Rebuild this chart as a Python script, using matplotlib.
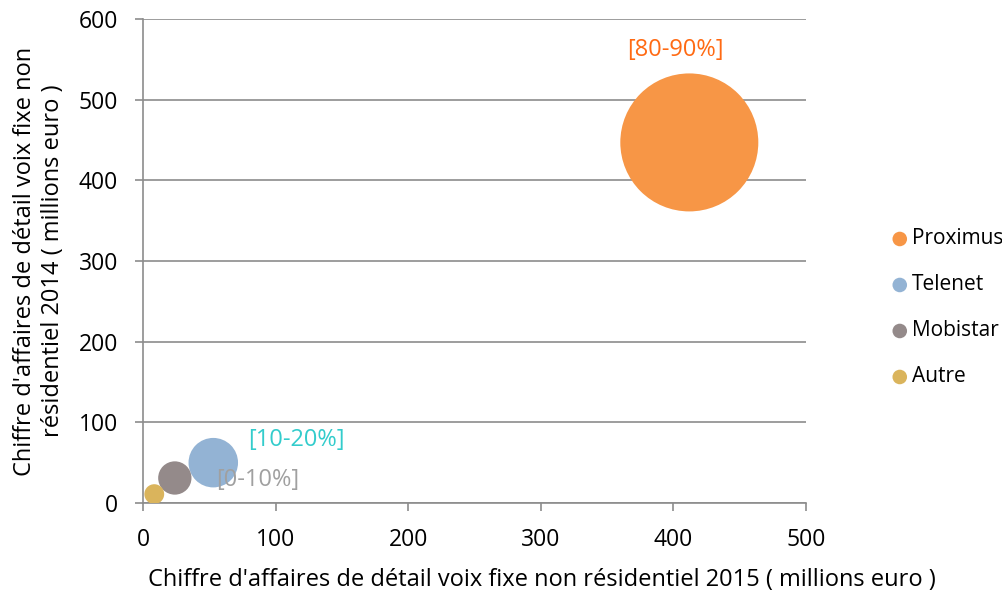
import matplotlib.pyplot as plt

operators = ['Proximus', 'Telenet', 'Mobistar', 'Autre']
rev_2015 = [412, 53, 24, 8.5]
rev_2014 = [447, 50, 31, 11]
colors = ['#F79646', '#93B3D4', '#948A8A', '#DAB45C']

# share labels shown next to bubbles
share_labels = ['[80-90%]', '[10-20%]', '[0-10%]']
share_pos = [(365, 561), (79, 78), (55, 28.5)]
share_colors = ['#FF6A13', '#33CCCC', '#A0A0A0']

plt.rcParams['font.family'] = ['Open Sans', 'DejaVu Sans']

fig = plt.figure(figsize=(10.03, 5.95), dpi=100)
ax = fig.add_axes([143 / 1003, 1 - 503 / 595, (806 - 143) / 1003, (503 - 19) / 595])

# bubble area proportional to 2015 revenue, largest ~138 px wide
max_d = 138 * 0.72
sizes = [max_d ** 2 * v / max(rev_2015) for v in rev_2015]
for name, x, y, s, c in zip(operators, rev_2015, rev_2014, sizes, colors):
    ax.scatter(x, y, s=s, color=c, edgecolors='none', zorder=3, label=name)

for txt, (x, y), c in zip(share_labels, share_pos, share_colors):
    ax.text(x, y, txt, color=c, fontsize=17, ha='left', va='center', zorder=4)

ax.set_xlim(0, 500)
ax.set_ylim(0, 600)
ax.set_xticks(range(0, 501, 100))
ax.set_yticks(range(0, 601, 100))
ax.yaxis.grid(True, color='#8C8C8C', linewidth=1.2)
ax.set_axisbelow(True)
for sp in ['top', 'right']:
    ax.spines[sp].set_visible(False)
for sp in ['left', 'bottom']:
    ax.spines[sp].set_color('#8C8C8C')
    ax.spines[sp].set_linewidth(1.2)
ax.tick_params(axis='both', colors='#8C8C8C', labelcolor='black', labelsize=16.5,
               length=6, width=1.2, direction='out')
ax.tick_params(axis='x', pad=12)
ax.tick_params(axis='y', pad=12)

ax.set_xlabel("Chiffre d'affaires de détail voix fixe non résidentiel 2015 ( millions euro )",
              fontsize=17, labelpad=12)
ax.xaxis.set_label_coords(0.602, -0.135)
ax.set_ylabel("Chiffre d'affaires de détail voix fixe non\nrésidentiel 2014 ( millions euro )",
              fontsize=17, labelpad=10)

leg = ax.legend(loc='center left', bbox_to_anchor=(1.11, 0.403), frameon=False,
                fontsize=15, markerscale=1, handletextpad=0.1, labelspacing=1.2,
                handlelength=1.0, borderpad=0)
for h in leg.legend_handles:
    h.set_sizes([110])

fig.savefig('out.png', dpi=100)
